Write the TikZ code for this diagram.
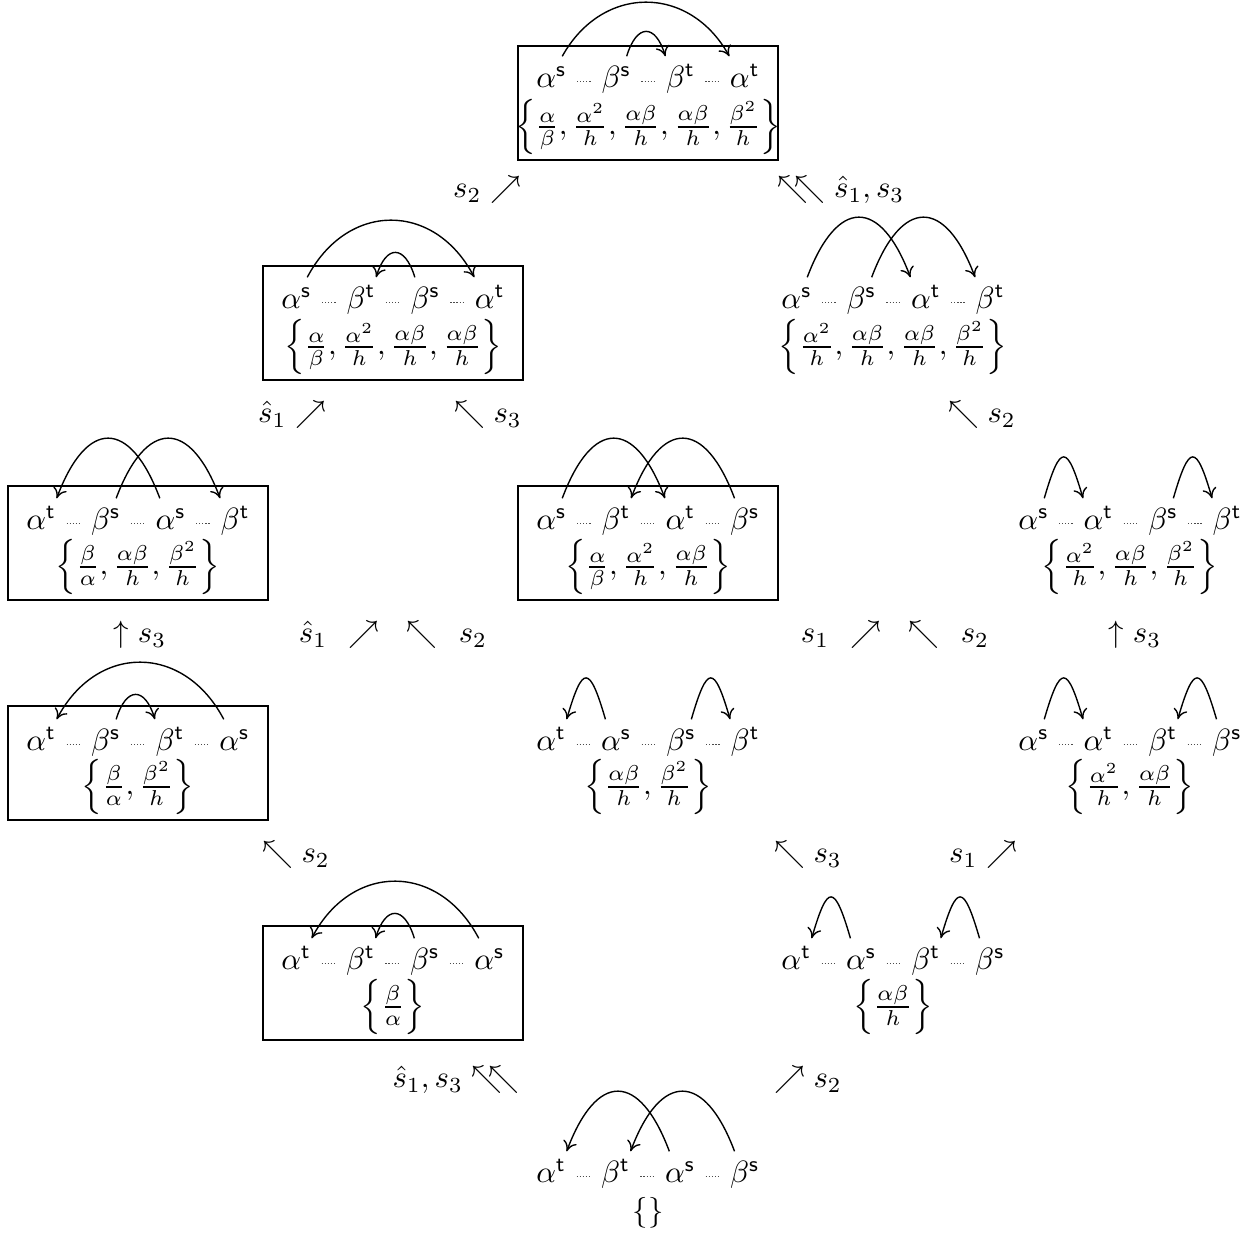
\documentclass[tikz,border=0pt]{standalone}
\usetikzlibrary{matrix,arrows.meta}
\newcommand{\aS}{\alpha^{\mathsf{s}}}
\newcommand{\aT}{\alpha^{\mathsf{t}}}
\newcommand{\bS}{\beta^{\mathsf{s}}}
\newcommand{\bT}{\beta^{\mathsf{t}}}
\newcommand{\fab}{\frac{\alpha}{\beta}}
\newcommand{\fba}{\frac{\beta}{\alpha}}
\newcommand{\faa}{\frac{\alpha^2}{h}}
\newcommand{\fbb}{\frac{\beta^2}{h}}
\newcommand{\fxy}{\frac{\alpha\beta}{h}}
\tikzset{
  rowsty/.style={matrix of math nodes, column sep=11.4pt, inner sep=0pt,
    ampersand replacement=\&,
    nodes={inner sep=0pt, text height=7pt, text depth=2pt, anchor=base}},
  dotsty/.style={line width=0.4pt, dash pattern=on 0.4pt off 0.6pt, black!70},
  arcsty/.style={-{Computer Modern Rightarrow[length=3.3pt,width=4.6pt]}, line width=0.45pt},
  boxsty/.style={draw, line width=0.42pt, minimum width=84.5pt, minimum height=37pt, inner sep=0pt},
  setsty/.style={inner sep=0pt},
  lab/.style={inner sep=0pt}
}
\newcommand{\dts}[2]{\draw[dotsty] ([shift={(3.2pt,1.95pt)}]#1.base east) -- ([shift={(-3.2pt,1.95pt)}]#2.base west);}
\newcommand{\mkstate}[7]{%
  \matrix (#1) [rowsty] at (#2,#3) {#4 \& #5 \& #6 \& #7 \\};
  \dts{#1-1-1}{#1-1-2}\dts{#1-1-2}{#1-1-3}\dts{#1-1-3}{#1-1-4}}
\newcommand{\arcLR}[4]{\draw[arcsty] ([xshift=-1.6pt,yshift=3pt]#1.north east) .. controls +(#4,-#3) and +(-#4,-#3) .. ([yshift=3pt]#2.north west);}
\newcommand{\arcRL}[4]{\draw[arcsty] ([xshift=1.6pt,yshift=3pt]#1.north west) .. controls +(-#4,-#3) and +(#4,-#3) .. ([yshift=3pt]#2.north east);}
\begin{document}
\begin{tikzpicture}[x=0.325pt,y=-0.325pt]
\useasboundingbox (0,0) rectangle (1253,1235);
% boxes
\node[boxsty] (B0) at (648,103) {};
\node[boxsty] (B1) at (393,323) {};
\node[boxsty] (B3) at (138,543) {};
\node[boxsty] (B4) at (648,543) {};
\node[boxsty] (B6) at (138,763) {};
\node[boxsty] (B9) at (393,983) {};
% states
\mkstate{S0}{648}{80}{\aS}{\bS}{\bT}{\aT}
\mkstate{S1}{393}{301}{\aS}{\bT}{\bS}{\aT}
\mkstate{S2}{893}{301}{\aS}{\bS}{\aT}{\bT}
\mkstate{S3}{138}{522}{\aT}{\bS}{\aS}{\bT}
\mkstate{S4}{648}{522}{\aS}{\bT}{\aT}{\bS}
\mkstate{S5}{1130}{522}{\aS}{\aT}{\bS}{\bT}
\mkstate{S6}{138}{743}{\aT}{\bS}{\bT}{\aS}
\mkstate{S7}{648}{743}{\aT}{\aS}{\bS}{\bT}
\mkstate{S8}{1130}{743}{\aS}{\aT}{\bT}{\bS}
\mkstate{S9}{393}{962}{\aT}{\bT}{\bS}{\aS}
\mkstate{S10}{893}{962}{\aT}{\aS}{\bT}{\bS}
\mkstate{S11}{648}{1175}{\aT}{\bT}{\aS}{\bS}
% sets
\node[setsty] (T0) at (648,127) {$\left\{\fab, \faa, \fxy, \fxy, \fbb\right\}$};
\node[setsty] (T1) at (393,347) {$\left\{\fab, \faa, \fxy, \fxy\right\}$};
\node[setsty] (T2) at (893,347) {$\left\{\faa, \fxy, \fxy, \fbb\right\}$};
\node[setsty] (T3) at (138,567) {$\left\{\fba, \fxy, \fbb\right\}$};
\node[setsty] (T4) at (648,567) {$\left\{\fab, \faa, \fxy\right\}$};
\node[setsty] (T5) at (1130,567) {$\left\{\faa, \fxy, \fbb\right\}$};
\node[setsty] (T6) at (138,787) {$\left\{\fba, \fbb\right\}$};
\node[setsty] (T7) at (648,787) {$\left\{\fxy, \fbb\right\}$};
\node[setsty] (T8) at (1130,787) {$\left\{\faa, \fxy\right\}$};
\node[setsty] (T9) at (393,1007) {$\left\{\fba\right\}$};
\node[setsty] (T10) at (893,1007) {$\left\{\fxy\right\}$};
\node[setsty] (T11) at (648,1213) {$\{\}$};
% arcs
\arcLR{S0-1-1}{S0-1-4}{72}{40}
\arcLR{S0-1-2}{S0-1-3}{33}{10}
\arcLR{S1-1-1}{S1-1-4}{76}{40}
\arcRL{S1-1-3}{S1-1-2}{33}{10}
\arcLR{S2-1-1}{S2-1-3}{80}{30}
\arcLR{S2-1-2}{S2-1-4}{80}{30}
\arcRL{S3-1-3}{S3-1-1}{80}{30}
\arcLR{S3-1-2}{S3-1-4}{80}{30}
\arcLR{S4-1-1}{S4-1-3}{80}{30}
\arcRL{S4-1-4}{S4-1-2}{80}{30}
\arcLR{S5-1-1}{S5-1-2}{55}{16}
\arcLR{S5-1-3}{S5-1-4}{55}{16}
\arcRL{S6-1-4}{S6-1-1}{76}{40}
\arcLR{S6-1-2}{S6-1-3}{33}{10}
\arcRL{S7-1-2}{S7-1-1}{55}{16}
\arcLR{S7-1-3}{S7-1-4}{55}{16}
\arcLR{S8-1-1}{S8-1-2}{55}{16}
\arcRL{S8-1-4}{S8-1-3}{55}{16}
\arcRL{S9-1-4}{S9-1-1}{76}{40}
\arcRL{S9-1-3}{S9-1-2}{33}{10}
\arcRL{S10-1-2}{S10-1-1}{55}{16}
\arcRL{S10-1-4}{S10-1-3}{55}{16}
\arcRL{S11-1-3}{S11-1-1}{80}{30}
\arcRL{S11-1-4}{S11-1-2}{80}{30}
% transition labels
\node[lab] (L1) at (487,190) {$s_2 \nearrow$};
\node[lab] (L2) at (841,190) {$\nwarrow\mkern-8mu\nwarrow \hat{s}_1, s_3$};
\node[lab] (L3) at (292,415) {$\hat{s}_1 \nearrow$};
\node[lab] (L4) at (488,415) {$\nwarrow s_3$};
\node[lab] (L5) at (982,415) {$\nwarrow s_2$};
\node[lab] (L6) at (140,635) {$\uparrow s_3$};
\node[lab] (L7) at (393,635) {$\hat{s}_1 \mkern7.5mu\nearrow \mkern16mu \nwarrow \mkern7.5mu s_2$};
\node[lab] (L8) at (895,635) {$s_1 \mkern7.5mu\nearrow \mkern16mu \nwarrow \mkern7.5mu s_2$};
\node[lab] (L9) at (1135,635) {$\uparrow s_3$};
\node[lab] (L10) at (296,855) {$\nwarrow s_2$};
\node[lab] (L11) at (808,855) {$\nwarrow s_3$};
\node[lab] (L12) at (983,855) {$s_1 \nearrow$};
\node[lab] (L13) at (456,1080) {$\hat{s}_1, s_3 \nwarrow\mkern-8mu\nwarrow$};
\node[lab] (L14) at (808,1080) {$\nearrow s_2$};
\end{tikzpicture}
\end{document}
